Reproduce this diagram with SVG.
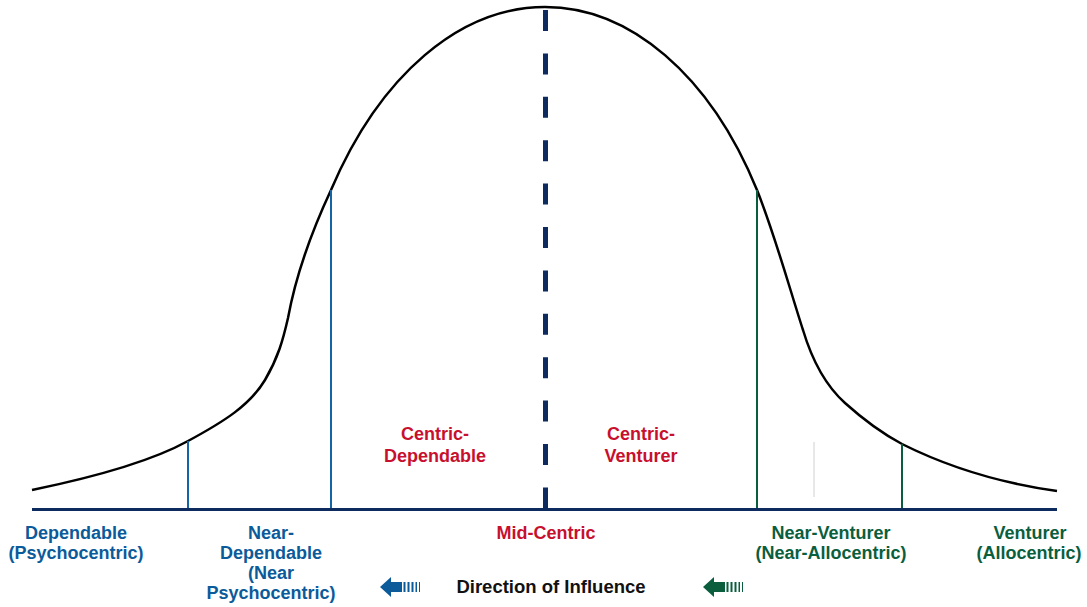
<svg xmlns="http://www.w3.org/2000/svg" width="1087" height="607" viewBox="0 0 1087 607">
<style>
text{font-family:"Liberation Sans",Arial,sans-serif;font-weight:bold;font-size:18px;text-anchor:middle}
.b{fill:#0b5a9a}.g{fill:#0a5e3e}.r{fill:#c8102e}.k{fill:#111}
.vb{stroke:#1565a6;stroke-width:2}.vg{stroke:#0a5e3e;stroke-width:2}
</style>
<rect width="1087" height="607" fill="#fff"/>
<g id="connectors">
<path id="curve" d="M32,490 C90,478 150,462 188,441 C225,421 250,405 265,380 C278,358 283,340 288,318 C295,280 310,235 331,190 C380,75 460,7 545,7 C630,7 710,75 757,190 C775,235 790,290 803,330 C812,360 825,385 845,403 C865,421 885,435 902,444 C950,468 1000,483 1057,491" fill="none" stroke="#000" stroke-width="2.5"/>
<line x1="814" y1="442" x2="814" y2="497" stroke="#d0d0d0" stroke-width="1"/>
<line x1="188" y1="441" x2="188" y2="508" class="vb"/>
<line x1="331" y1="190" x2="331" y2="508" class="vb"/>
<line x1="757" y1="190" x2="757" y2="508" class="vg"/>
<line x1="902" y1="444" x2="902" y2="508" class="vg"/>
<line x1="545.5" y1="10" x2="545.5" y2="508" stroke="#0d2b5e" stroke-width="5" stroke-dasharray="21 22.4"/>
<line x1="32" y1="509.5" x2="1057" y2="509.5" stroke="#0d2b5e" stroke-width="3"/>
</g>
<g id="dependable"><text class="b" x="76" y="539">Dependable</text><text class="b" x="76" y="559">(Psychocentric)</text></g>
<g id="near-dependable"><text class="b" x="271" y="539">Near-</text><text class="b" x="271" y="559">Dependable</text><text class="b" x="271" y="579">(Near</text><text class="b" x="271" y="599">Psychocentric)</text></g>
<g id="mid-centric"><text class="r" x="546" y="539">Mid-Centric</text></g>
<g id="near-venturer"><text class="g" x="831" y="539">Near-Venturer</text><text class="g" x="831" y="559">(Near-Allocentric)</text></g>
<g id="venturer"><text class="g" x="1030" y="539">Venturer</text><text class="g" x="1029" y="559">(Allocentric)</text></g>
<g id="centric-dependable"><text class="r" x="435" y="440">Centric-</text><text class="r" x="435" y="462">Dependable</text></g>
<g id="centric-venturer"><text class="r" x="641" y="440">Centric-</text><text class="r" x="641" y="462">Venturer</text></g>
<g id="direction"><text class="k" x="551" y="593" style="font-size:18.5px">Direction of Influence</text>
<g fill="#0b5a9a"><path d="M380,587 L391,577 L391,582 L402,582 L402,592 L391,592 L391,597 Z"/><rect x="403.5" y="582" width="2" height="10"/><rect x="407.5" y="582" width="2" height="10"/><rect x="411.5" y="582" width="2" height="10"/><rect x="415.5" y="582" width="1.5" height="10"/><rect x="419" y="582" width="1" height="10"/></g>
<g fill="#0a5e3e"><path d="M703,587 L714,577 L714,582 L725,582 L725,592 L714,592 L714,597 Z"/><rect x="726.5" y="582" width="2" height="10"/><rect x="730.5" y="582" width="2" height="10"/><rect x="734.5" y="582" width="2" height="10"/><rect x="738.5" y="582" width="1.5" height="10"/><rect x="742" y="582" width="1" height="10"/></g>
</g>
</svg>
